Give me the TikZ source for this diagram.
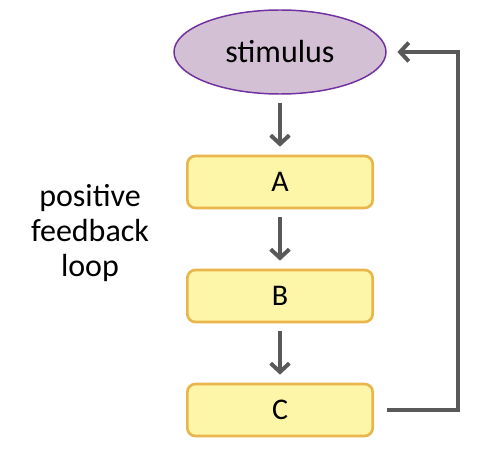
\documentclass[tikz,border=0pt]{standalone}
\usepackage{fontspec}
\setmainfont{Carlito}
\usetikzlibrary{arrows.meta}
\usetikzlibrary{shapes.geometric}

\definecolor{stimfill}{HTML}{D3C0D4}
\definecolor{stimline}{HTML}{7030A0}
\definecolor{boxfill}{HTML}{FDF5A7}
\definecolor{boxline}{HTML}{EAB64B}
\definecolor{arrowgray}{HTML}{595959}

\tikzset{
  stepbox/.style={draw=boxline, fill=boxfill, line width=2pt, rectangle,
    rounded corners=6pt, minimum width=139pt, minimum height=39pt,
    font=\fontsize{22.5}{25}\selectfont},
  flow/.style={draw=arrowgray, line width=3pt,
    -{Straight Barb[length=6.5pt, width=14pt]}}
}

\begin{document}
\begin{tikzpicture}[x=0.75pt, y=-0.75pt]
  \useasboundingbox (0,0) rectangle (494,474);
  \node[draw=stimline, fill=stimfill, line width=1.1pt, ellipse,
    minimum width=159pt, minimum height=63pt, inner sep=0pt,
    font=\fontsize{24}{27}\selectfont] (Stimulus) at (280,52) {stimulus};
  \node[stepbox] (A) at (280,182) {A};
  \node[stepbox] (B) at (280,296) {B};
  \node[stepbox] (C) at (280,410) {C};

  \node[align=center, font=\fontsize{24}{26.5}\selectfont] (Loop) at (90,233)
    {positive\\feedback\\loop};

  \coordinate (Turn) at (458,410);
  \draw[flow, shorten <=6pt, shorten >=6pt] (Stimulus) -- (A);
  \draw[flow, shorten <=6pt, shorten >=6pt] (A) -- (B);
  \draw[flow, shorten <=6pt, shorten >=6pt] (B) -- (C);
  \draw[flow, shorten <=10pt, shorten >=8pt] (C.east) -- (Turn)
    |- (Stimulus.east);

\end{tikzpicture}
\end{document}
